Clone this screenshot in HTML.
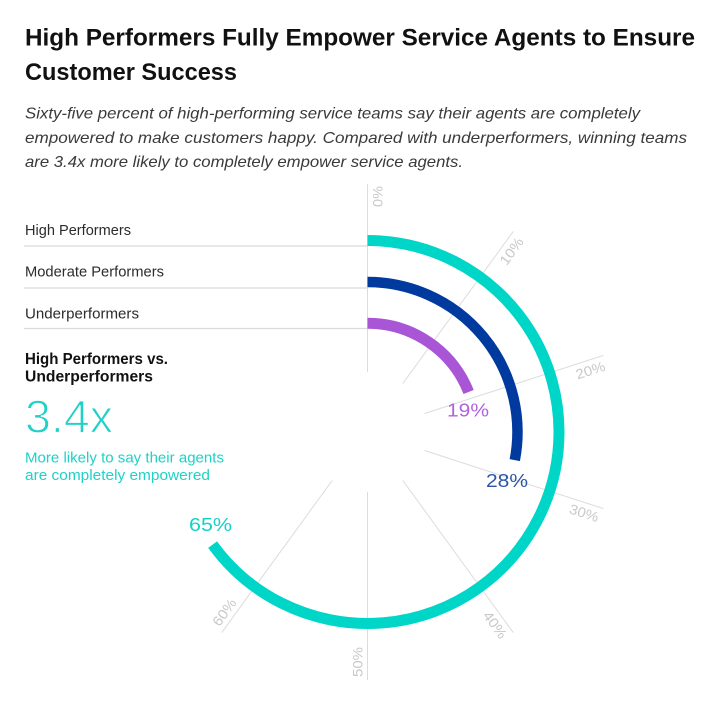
<!DOCTYPE html>
<html>
<head>
<meta charset="utf-8">
<style>
  html,body{margin:0;padding:0;background:#fff;}
  svg{display:block;}
  text{font-family:"Liberation Sans", sans-serif;}
</style>
</head>
<body>
<svg width="720" height="705" viewBox="0 0 720 705" xmlns="http://www.w3.org/2000/svg">
  <rect width="720" height="705" fill="#fff"/>

  <!-- Title -->
  <text x="25" y="45.7" font-size="24.5" font-weight="bold" fill="#111" textLength="670" lengthAdjust="spacingAndGlyphs">High Performers Fully Empower Service Agents to Ensure</text>
  <text x="25" y="80" font-size="24.5" font-weight="bold" fill="#111" textLength="212" lengthAdjust="spacingAndGlyphs">Customer Success</text>

  <!-- Subtitle -->
  <g font-size="16" font-style="italic" fill="#3a3a3a">
    <text x="25" y="118.5" textLength="615" lengthAdjust="spacingAndGlyphs">Sixty-five percent of high-performing service teams say their agents are completely</text>
    <text x="25" y="142.8" textLength="662" lengthAdjust="spacingAndGlyphs">empowered to make customers happy. Compared with underperformers, winning teams</text>
    <text x="25" y="166.8" textLength="438" lengthAdjust="spacingAndGlyphs">are 3.4x more likely to completely empower service agents.</text>
  </g>

  <!-- Grid lines -->
  <g stroke="#dcdcdc" stroke-width="1">
    <line x1="367.5" y1="372" x2="367.5" y2="184"/>
    <line x1="402.8" y1="383.5" x2="513.3" y2="231.4"/>
    <line x1="424.6" y1="413.5" x2="603.4" y2="355.4"/>
    <line x1="424.6" y1="450.5" x2="603.4" y2="508.6"/>
    <line x1="402.8" y1="480.5" x2="513.3" y2="632.6"/>
    <line x1="367.5" y1="492" x2="367.5" y2="680"/>
    <line x1="332.2" y1="480.5" x2="221.7" y2="632.6"/>
  </g>

  <!-- Grid labels -->
  <g font-size="14" fill="#c8c8c8" dominant-baseline="central">
    <text x="377.5" y="186" text-anchor="end" transform="rotate(-90 377.5 186)" textLength="21" lengthAdjust="spacingAndGlyphs">0%</text>
    <text x="520.2" y="238.9" text-anchor="end" transform="rotate(-54 520.2 238.9)" textLength="30" lengthAdjust="spacingAndGlyphs">10%</text>
    <text x="604.6" y="365.5" text-anchor="end" transform="rotate(-18 604.6 365.5)" textLength="30" lengthAdjust="spacingAndGlyphs">20%</text>
    <text x="598.4" y="517.5" text-anchor="end" transform="rotate(18 598.4 517.5)" textLength="30" lengthAdjust="spacingAndGlyphs">30%</text>
    <text x="504" y="636.9" text-anchor="end" transform="rotate(54 504 636.9)" textLength="30" lengthAdjust="spacingAndGlyphs">40%</text>
    <text x="357.5" y="677" text-anchor="start" transform="rotate(-90 357.5 677)" textLength="30" lengthAdjust="spacingAndGlyphs">50%</text>
    <text x="215.4" y="624.3" text-anchor="start" transform="rotate(-54 215.4 624.3)" textLength="30" lengthAdjust="spacingAndGlyphs">60%</text>
  </g>

  <!-- Left legend lines -->
  <g stroke="#dadada" stroke-width="1.3">
    <line x1="24" y1="246" x2="367.5" y2="246"/>
    <line x1="24" y1="288" x2="367.5" y2="288"/>
    <line x1="24" y1="328.5" x2="367.5" y2="328.5"/>
  </g>

  <!-- Left labels -->
  <g font-size="14.5" fill="#2b2b2b">
    <text x="25" y="235" textLength="106" lengthAdjust="spacingAndGlyphs">High Performers</text>
    <text x="25" y="276.7" textLength="139" lengthAdjust="spacingAndGlyphs">Moderate Performers</text>
    <text x="25" y="318.3" textLength="114" lengthAdjust="spacingAndGlyphs">Underperformers</text>
  </g>

  <!-- Arcs -->
  <path d="M367.5 240.5 A191.5 191.5 0 1 1 212.6 544.6" fill="none" stroke="#00d6c8" stroke-width="11"/>
  <path d="M367.5 282 A150 150 0 0 1 514.8 460.1" fill="none" stroke="#003a9e" stroke-width="10.5"/>
  <path d="M367.5 323.3 A108.7 108.7 0 0 1 468.6 392" fill="none" stroke="#a855d6" stroke-width="11"/>

  <!-- Value labels -->
  <text x="447" y="416.5" font-size="18" fill="#b262dc" textLength="42" lengthAdjust="spacingAndGlyphs">19%</text>
  <text x="486" y="487" font-size="18" fill="#2c55a6" textLength="42" lengthAdjust="spacingAndGlyphs">28%</text>
  <text x="189" y="531" font-size="18" fill="#14d2c6" textLength="43" lengthAdjust="spacingAndGlyphs">65%</text>

  <!-- Comparison block -->
  <g font-size="15.5" font-weight="bold" fill="#111">
    <text x="25" y="364" textLength="143" lengthAdjust="spacingAndGlyphs">High Performers vs.</text>
    <text x="25" y="381.7" textLength="128" lengthAdjust="spacingAndGlyphs">Underperformers</text>
  </g>
  <text x="25" y="432.7" font-size="46" fill="#1fd1c6" stroke="#fff" stroke-width="1.2" textLength="88" lengthAdjust="spacingAndGlyphs">3.4x</text>
  <g font-size="14.5" fill="#1fd1c6">
    <text x="25" y="462.7" textLength="199" lengthAdjust="spacingAndGlyphs">More likely to say their agents</text>
    <text x="25" y="480" textLength="185" lengthAdjust="spacingAndGlyphs">are completely empowered</text>
  </g>
</svg>
</body>
</html>
